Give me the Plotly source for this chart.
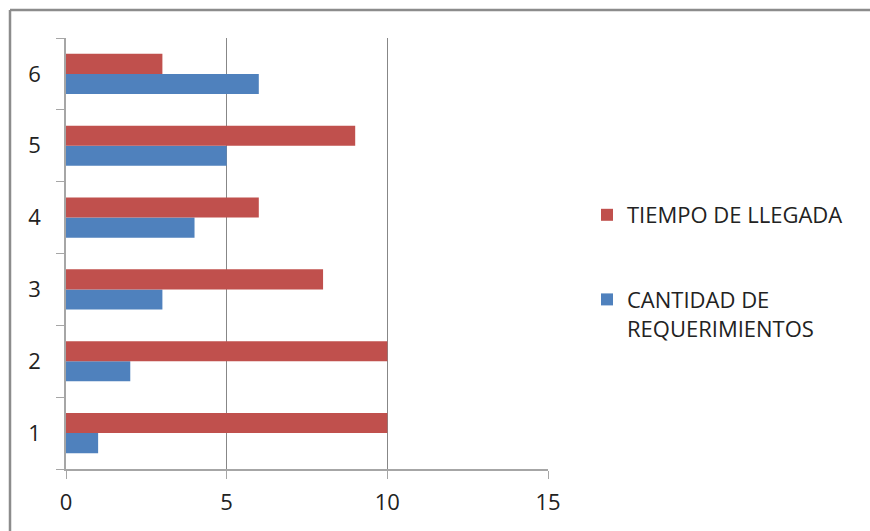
import plotly.graph_objects as go

categories = ["1", "2", "3", "4", "5", "6"]
cantidad = [1, 2, 3, 4, 5, 6]
tiempo = [10, 10, 8, 6, 9, 3]
x_ticks = [0, 5, 10, 15]

W, H = 870, 531
L, R, T, B = 66, 322, 38, 62
pw, ph = W - L - R, H - T - B

def px(x):
    return (x - L) / pw

def py(y):
    return (H - B - y) / ph

FONT = "Open Sans"

fig = go.Figure()
fig.add_trace(go.Bar(
    y=categories, x=cantidad, orientation="h",
    name="CANTIDAD DE<br>REQUERIMIENTOS",
    marker=dict(color="#4F81BD", line=dict(width=0)),
    legendgroup="a", legendrank=2,
))
fig.add_trace(go.Bar(
    y=categories, x=tiempo, orientation="h",
    name="TIEMPO DE LLEGADA",
    marker=dict(color="#C0504D", line=dict(width=0)),
    legendgroup="b", legendrank=1,
))

fig.update_layout(
    width=W, height=H,
    margin=dict(l=L, r=R, t=T, b=B),
    paper_bgcolor="white", plot_bgcolor="white",
    barmode="group", bargap=0.44, bargroupgap=0,
    font=dict(family=FONT, size=22, color="#222222"),
    showlegend=True,
    legend=dict(
        x=px(587), y=py(194), xanchor="left", yanchor="top",
        traceorder="grouped", tracegroupgap=53, valign="top",
        font=dict(family=FONT, size=22, color="#222222"),
        itemwidth=30, bgcolor="rgba(0,0,0,0)",
    ),
    xaxis=dict(
        range=[0, 15], tickvals=x_ticks, ticktext=[str(v) for v in x_ticks],
        showgrid=True, gridcolor="#878787", gridwidth=1,
        showline=True, linecolor="#A6A6A6", linewidth=1.5,
        ticks="outside", ticklen=8, tickcolor="#A6A6A6",
        zeroline=False, ticklabelstandoff=5,
    ),
    yaxis=dict(
        type="category", categoryorder="array", categoryarray=categories,
        range=[-0.5, 5.5],
        showgrid=False, showline=True, linecolor="#A6A6A6", linewidth=1.5,
        ticks="outside", ticklen=8, tickcolor="#A6A6A6", tickson="boundaries",
        ticklabelstandoff=19,
    ),
    shapes=[
        dict(type="line", xref="paper", yref="paper",
             x0=px(10), x1=px(875), y0=py(10), y1=py(10),
             line=dict(color="#8C8C8C", width=2.5)),
        dict(type="line", xref="paper", yref="paper",
             x0=px(10), x1=px(10), y0=py(10), y1=py(540),
             line=dict(color="#8C8C8C", width=2.5)),
    ],
)

fig.write_html("out.html", config={"displayModeBar": False},
               post_script="document.body.style.margin='0';document.body.style.overflow='hidden';")
